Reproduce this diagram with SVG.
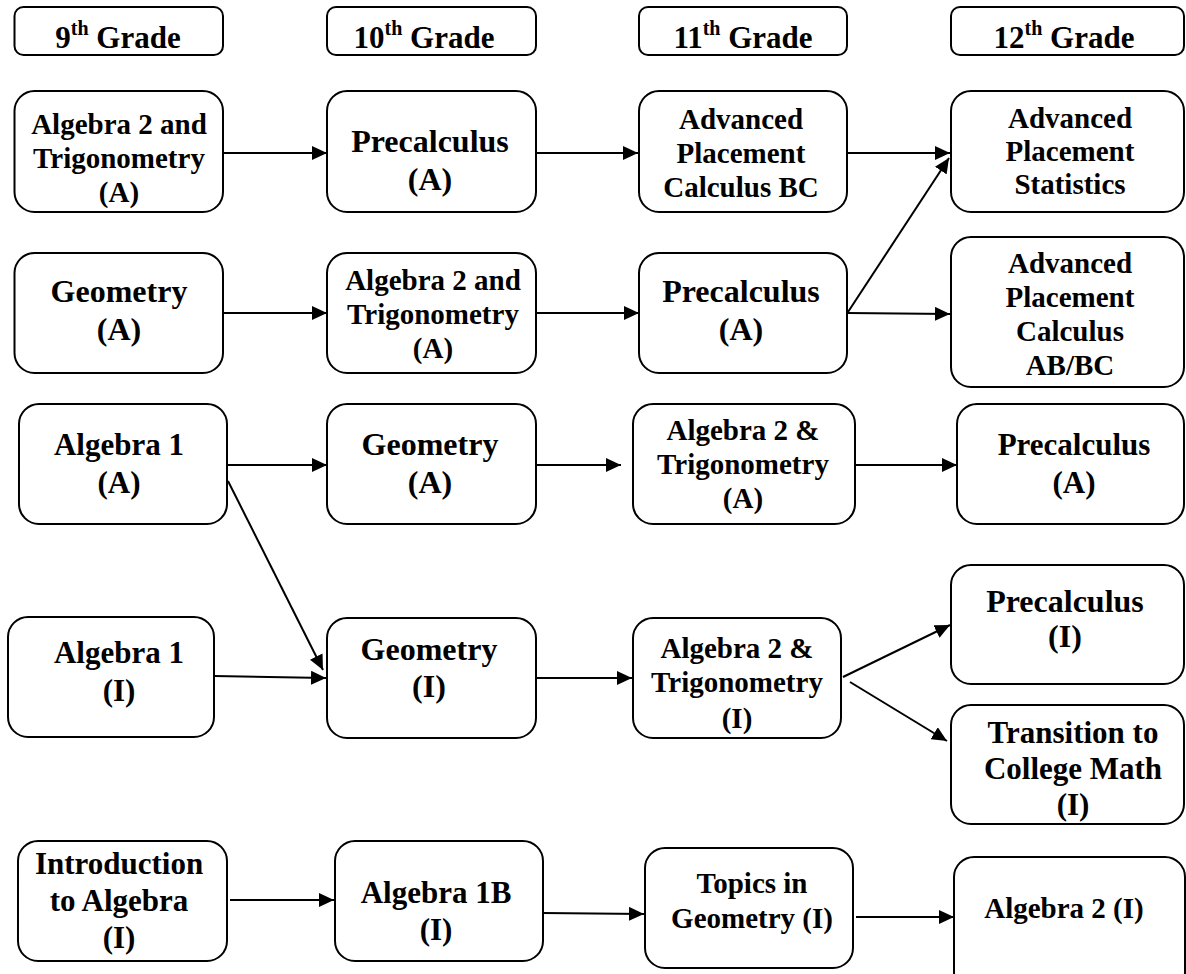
<svg xmlns="http://www.w3.org/2000/svg" width="1186" height="974" viewBox="0 0 1186 974">
<defs>
<marker id="ah" markerUnits="userSpaceOnUse" markerWidth="16" markerHeight="14" refX="15" refY="7" orient="auto">
<path d="M0,0 L15,7 L0,14 z" fill="#000"/>
</marker>
<style>
.box{fill:#fff;stroke:#000;stroke-width:2}
.t{font-family:"Liberation Serif","Times New Roman",serif;font-weight:bold;fill:#000;text-anchor:middle}
.h{font-size:31px}
.sup{font-size:20px}
.s29{font-size:29px}
.s31{font-size:31px}
.s32{font-size:32px}
.c line{stroke:#000;stroke-width:2;marker-end:url(#ah)}
</style>
</defs>
<rect width="1186" height="974" fill="#fff"/>

<g id="h9"><rect class="box" x="14.5" y="7" width="208.5" height="48" rx="9"/><text class="t h" x="118" y="48">9<tspan class="sup" dy="-13">th</tspan><tspan dy="13"> Grade</tspan></text></g>
<g id="h10"><rect class="box" x="327" y="7" width="209" height="48" rx="9"/><text class="t h" x="424" y="48">10<tspan class="sup" dy="-13">th</tspan><tspan dy="13"> Grade</tspan></text></g>
<g id="h11"><rect class="box" x="639" y="7" width="208" height="48" rx="9"/><text class="t h" x="743" y="48">11<tspan class="sup" dy="-13">th</tspan><tspan dy="13"> Grade</tspan></text></g>
<g id="h12"><rect class="box" x="951" y="7" width="233" height="48" rx="9"/><text class="t h" x="1064" y="48">12<tspan class="sup" dy="-13">th</tspan><tspan dy="13"> Grade</tspan></text></g>

<g id="n9a2t"><rect class="box" x="14.5" y="91" width="208.5" height="121" rx="20"/><text class="t s29" x="119" y="134">Algebra 2 and</text><text class="t s29" x="119" y="168">Trigonometry</text><text class="t s29" x="119" y="202">(A)</text></g>
<g id="n10pre"><rect class="box" x="327" y="91" width="209" height="121" rx="20"/><text class="t s32" x="430" y="152">Precalculus</text><text class="t s32" x="430" y="190">(A)</text></g>
<g id="n11apbc"><rect class="box" x="639" y="91" width="208" height="121" rx="20"/><text class="t s29" x="741" y="129">Advanced</text><text class="t s29" x="741" y="163">Placement</text><text class="t s29" x="741" y="197">Calculus BC</text></g>
<g id="n12apstat"><rect class="box" x="951" y="91" width="233" height="121" rx="20"/><text class="t s29" x="1070" y="128">Advanced</text><text class="t s29" x="1070" y="161">Placement</text><text class="t s29" x="1070" y="194">Statistics</text></g>

<g id="n9geoA"><rect class="box" x="14.5" y="253" width="208.5" height="120" rx="20"/><text class="t s32" x="119" y="302">Geometry</text><text class="t s32" x="119" y="340">(A)</text></g>
<g id="n10a2tA"><rect class="box" x="327" y="253" width="209" height="120" rx="20"/><text class="t s29" x="433" y="290">Algebra 2 and</text><text class="t s29" x="433" y="324">Trigonometry</text><text class="t s29" x="433" y="358">(A)</text></g>
<g id="n11preA"><rect class="box" x="639" y="253" width="208" height="120" rx="20"/><text class="t s32" x="741" y="302">Precalculus</text><text class="t s32" x="741" y="340">(A)</text></g>
<g id="n12apab"><rect class="box" x="951" y="237" width="233" height="150" rx="20"/><text class="t s29" x="1070" y="273">Advanced</text><text class="t s29" x="1070" y="307">Placement</text><text class="t s29" x="1070" y="341">Calculus</text><text class="t s29" x="1070" y="375">AB/BC</text></g>

<g id="n9alg1A"><rect class="box" x="19" y="404" width="208" height="120" rx="20"/><text class="t s31" x="119" y="455">Algebra 1</text><text class="t s31" x="119" y="493">(A)</text></g>
<g id="n10geoA"><rect class="box" x="327" y="404" width="209" height="120" rx="20"/><text class="t s32" x="430" y="455">Geometry</text><text class="t s32" x="430" y="493">(A)</text></g>
<g id="n11a2tA"><rect class="box" x="633" y="404" width="222" height="120" rx="20"/><text class="t s29" x="743" y="440">Algebra 2 &amp;</text><text class="t s29" x="743" y="474">Trigonometry</text><text class="t s29" x="743" y="508">(A)</text></g>
<g id="n12preA"><rect class="box" x="957" y="404" width="227" height="120" rx="20"/><text class="t s31" x="1074" y="455">Precalculus</text><text class="t s31" x="1074" y="493">(A)</text></g>

<g id="n9alg1I"><rect class="box" x="8" y="617" width="206" height="120" rx="20"/><text class="t s31" x="119" y="663">Algebra 1</text><text class="t s31" x="119" y="701">(I)</text></g>
<g id="n10geoI"><rect class="box" x="327" y="618" width="209" height="120" rx="20"/><text class="t s32" x="429" y="660">Geometry</text><text class="t s32" x="429" y="697">(I)</text></g>
<g id="n11a2tI"><rect class="box" x="633" y="618" width="208" height="120" rx="20"/><text class="t s29" x="737" y="658">Algebra 2 &amp;</text><text class="t s29" x="737" y="692">Trigonometry</text><text class="t s29" x="737" y="728">(I)</text></g>
<g id="n12preI"><rect class="box" x="951" y="565" width="233" height="119" rx="20"/><text class="t s32" x="1065" y="612">Precalculus</text><text class="t s32" x="1065" y="647">(I)</text></g>
<g id="n12trans"><rect class="box" x="951" y="705" width="233" height="119" rx="20"/><text class="t s31" x="1073" y="743">Transition to</text><text class="t s31" x="1073" y="779">College Math</text><text class="t s31" x="1073" y="815">(I)</text></g>

<g id="n9intro"><rect class="box" x="18" y="841" width="209" height="120" rx="20"/><text class="t s31" x="119" y="874">Introduction</text><text class="t s31" x="119" y="911">to Algebra</text><text class="t s31" x="119" y="948">(I)</text></g>
<g id="n10alg1b"><rect class="box" x="335" y="841" width="208" height="120" rx="20"/><text class="t s31" x="436" y="903">Algebra 1B</text><text class="t s31" x="436" y="940">(I)</text></g>
<g id="n11topics"><rect class="box" x="645" y="848" width="208" height="120" rx="20"/><text class="t s29" x="752" y="893">Topics in</text><text class="t s29" x="752" y="928">Geometry (I)</text></g>
<g id="n12alg2I"><rect class="box" x="954" y="857" width="231" height="135" rx="20"/><text class="t s29" x="1064" y="918">Algebra 2 (I)</text></g>

<g id="connectors" class="c">
<line x1="223" y1="153" x2="327" y2="153"/>
<line x1="536" y1="153" x2="638" y2="153"/>
<line x1="848" y1="153" x2="950" y2="153"/>
<line x1="848" y1="312" x2="949" y2="158"/>
<line x1="223" y1="313" x2="327" y2="313"/>
<line x1="536" y1="313" x2="639" y2="313"/>
<line x1="848" y1="313" x2="950" y2="314"/>
<line x1="227" y1="465" x2="327" y2="465"/>
<line x1="536" y1="465" x2="621" y2="465"/>
<line x1="855" y1="465" x2="957" y2="465"/>
<line x1="228" y1="481" x2="323" y2="670"/>
<line x1="214" y1="676" x2="326" y2="678"/>
<line x1="536" y1="678" x2="632" y2="678"/>
<line x1="843" y1="677" x2="950" y2="625"/>
<line x1="850" y1="682" x2="947" y2="741"/>
<line x1="230" y1="900" x2="334" y2="900"/>
<line x1="543" y1="913" x2="644" y2="914"/>
<line x1="856" y1="917" x2="954" y2="917"/>
</g>
</svg>
